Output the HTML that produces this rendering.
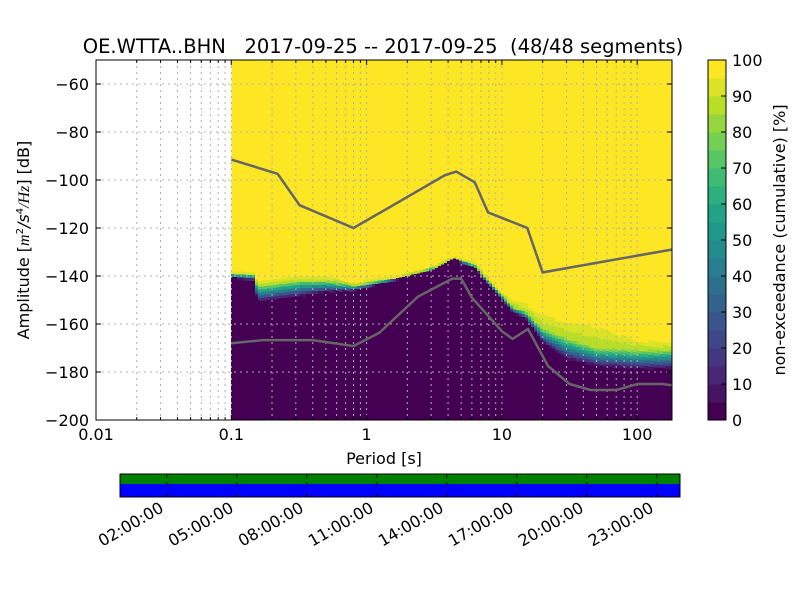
<!DOCTYPE html>
<html><head><meta charset="utf-8">
<style>
body{margin:0;background:#fff;}
svg text{font-family:"DejaVu Sans","Liberation Sans",sans-serif;fill:#000;}
</style></head>
<body>
<svg id="fig" width="800" height="600" xmlns="http://www.w3.org/2000/svg">
<rect width="800" height="600" fill="#fff"/>
<text x="383" y="53" font-size="19.5" text-anchor="middle" xml:space="preserve" style="white-space:pre">OE.WTTA..BHN   2017-09-25 -- 2017-09-25  (48/48 segments)</text>
<g id="heat" shape-rendering="crispEdges"></g>
<g id="grid"></g>
<g id="curves"></g>
<rect x="96" y="60" width="576" height="360" fill="none" stroke="#000" stroke-width="1"/>
<g id="axes"></g>
<text x="384" y="464" font-size="16" text-anchor="middle">Period [s]</text>
<text transform="translate(29,240) rotate(-90)" font-size="16" text-anchor="middle">Amplitude [<tspan font-style="italic" font-family="Liberation Serif">m</tspan><tspan font-size="10" dy="-6">2</tspan><tspan dy="6" font-style="italic">/s</tspan><tspan font-size="10" dy="-6">4</tspan><tspan dy="6" font-style="italic" font-family="Liberation Serif">/Hz</tspan>] [dB]</text>
<g id="cbar"></g>
<text transform="translate(785,240) rotate(-90)" font-size="16" text-anchor="middle">non-exceedance (cumulative) [%]</text>
<g id="timebar"></g>
</svg>
<script>
const colPeriods=[0.1,0.15,0.155,0.3,0.5,0.8,1.6,3.0,4.4,6.3,8,10,12,15,20,30,50,100,180];
const colUpper=[-138,-138.5,-141,-139,-139,-142,-140,-136.5,-131.5,-134,-140,-146,-149,-150,-154,-156,-157,-165,-167];
const colMid=[-139,-139.5,-144,-142,-142,-144,-141,-137,-132.5,-135.5,-142,-148,-153,-155,-162,-166,-170,-171,-171];
const colLower=[-141,-142,-151,-149,-147,-146.5,-142,-137.5,-133,-137,-144,-150,-155,-158,-168,-175,-178,-179,-179];
const hnmP=[0.1,0.22,0.32,0.8,3.8,4.6,6.3,7.9,15.4,20,180];
const hnmV=[-91.5,-97.4,-110.5,-120,-98,-96.5,-101,-113.5,-120,-138.5,-129];
const lnmP=[0.1,0.17,0.4,0.8,1.24,2.4,4.3,5,6,10,12,15.6,21.9,31.6,45,70,101,154,180];
const lnmV=[-168,-166.7,-166.7,-169.2,-163.7,-148.6,-141.1,-141.1,-149,-163,-166.2,-162.1,-177.5,-185,-187.5,-187.5,-185,-185,-185.5];
const yTicks=[-60,-80,-100,-120,-140,-160,-180,-200];
const xTicks=[0.01,0.1,1,10,100];
const xTickLabels=["0.01","0.1","1","10","100"];
const cbTicks=[0,10,20,30,40,50,60,70,80,90,100];
const timeLabels=["02:00:00","05:00:00","08:00:00","11:00:00","14:00:00","17:00:00","20:00:00","23:00:00"];
const timeHours=[2,5,8,11,14,17,20,23];

const NS="http://www.w3.org/2000/svg";
const X0=96,X1=672,Y0=60,Y1=420,LMIN=-2,LMAX=Math.log10(180.8);
const xs=p=>X0+(Math.log10(p)-LMIN)/(LMAX-LMIN)*(X1-X0);
const ys=v=>Y0+(-50-v)/150*(Y1-Y0);
function el(tag,attrs,parent){const e=document.createElementNS(NS,tag);for(const k in attrs)e.setAttribute(k,attrs[k]);parent.appendChild(e);return e;}
const vir=["#440154","#482475","#414487","#355f8d","#2a788e","#21918c","#22a884","#44bf70","#7ad151","#bddf26","#fde725"];
function hex(h){return [1,3,5].map(i=>parseInt(h.substr(i,2),16));}
function viridis(t){t=Math.max(0,Math.min(1,t));const f=t*10,i=Math.min(9,Math.floor(f)),r=f-i;const a=hex(vir[i]),b=hex(vir[i+1]);return `rgb(${a.map((c,k)=>Math.round(c+(b[k]-c)*r)).join(",")})`;}
function qcol(v){let lv=Math.min(19,Math.floor(v/5));return viridis(lv/19);}
function interp(P,V,p){const l=Math.log10(p);for(let i=0;i<P.length-1;i++){const a=Math.log10(P[i]),b=Math.log10(P[i+1]);if(l<=b||i==P.length-2){const r=(l-a)/(b-a);return V[i]+(V[i+1]-V[i])*Math.max(0,Math.min(1,r));}}return V[V.length-1];}

// heatmap
const heat=document.getElementById('heat');
const bg=el('rect',{x:xs(0.1),y:Y0,width:X1-xs(0.1),height:Y1-Y0,fill:qcol(100)},heat);


const xStart=Math.round(xs(colPeriods[0]));
for(let x=xStart;x<X1;x+=3){
  const p=Math.pow(10,LMIN+(x+1.5-X0)/(X1-X0)*(LMAX-LMIN));
  const u=interp(colPeriods,colUpper,p),m=interp(colPeriods,colMid,p),lo=interp(colPeriods,colLower,p);
  const w=Math.min(3,X1-x);
  const r=el('rect',{x:x,y:ys(lo),width:w,height:Y1-ys(lo),fill:qcol(0)},heat);
  
  
  for(let db=u;db>lo;db-=1.2){
    let v;const c=db-0.6;
    if(c>=m) v=100-15*(u-c)/Math.max(0.01,u-m); else v=85*(c-lo)/Math.max(0.01,m-lo);
    const rc=el('rect',{x:x,y:ys(db),width:w,height:3,fill:qcol(Math.max(0,Math.min(99.9,v)))},heat);
    
    
  }
}
// grid
const grid=document.getElementById('grid');
for(let d=-2;d<=2;d++)for(let k=1;k<10;k++){const p=k*Math.pow(10,d);const x=xs(p);if(x>X1)continue;
  const g=el('line',{x1:x,x2:x,y1:Y0,y2:Y1,stroke:"#b0b0b0","stroke-width":1,"stroke-dasharray":"2,4"},grid);
  
  }
yTicks.forEach(v=>{const y=ys(v);const g=el('line',{x1:X0,x2:X1,y1:y,y2:y,stroke:"#b0b0b0","stroke-width":1,"stroke-dasharray":"2,4"},grid);
  
  });
// curves
const curves=document.getElementById('curves');
function curve(P,V,name){const pts=P.map((p,i)=>xs(p).toFixed(1)+","+ys(V[i]).toFixed(1)).join(" ");
  const c=el('polyline',{points:pts,fill:"none",stroke:"#666","stroke-width":2.5},curves);
  
  }
curve(hnmP,hnmV,'high-noise-model');
curve(lnmP,lnmV,'low-noise-model');
// axes ticks
const axes=document.getElementById('axes');
yTicks.forEach(v=>{const y=ys(v);
  el('line',{x1:X0,x2:X0+5,y1:y,y2:y,stroke:"#000"},axes);
  el('line',{x1:X1,x2:X1-5,y1:y,y2:y,stroke:"#000"},axes);
  const t=el('text',{x:X0-7,y:y+6,"font-size":16,"text-anchor":"end"},axes);t.textContent="\u2212"+Math.abs(v);
  
  });
for(let d=-2;d<=2;d++)for(let k=1;k<10;k++){const x=xs(k*Math.pow(10,d));if(x>X1)continue;const L=k==1?5:3;
  el('line',{x1:x,x2:x,y1:Y1,y2:Y1-L,stroke:"#000"},axes);el('line',{x1:x,x2:x,y1:Y0,y2:Y0+L,stroke:"#000"},axes);}
xTicks.forEach((p,i)=>{const t=el('text',{x:xs(p),y:Y1+20,"font-size":16,"text-anchor":"middle"},axes);t.textContent=xTickLabels[i];
  
  });
// colorbar
const cb=document.getElementById('cbar');const CX=708,CW=18;
for(let i=0;i<20;i++){const y0=Y1-(i+1)*18;const r=el('rect',{x:CX,y:y0,width:CW,height:18.5,fill:viridis(i/19)},cb);
  
  }
el('rect',{x:CX,y:Y0,width:CW,height:Y1-Y0,fill:"none",stroke:"#000"},cb);
cbTicks.forEach(v=>{const y=Y1-v/100*(Y1-Y0);el('line',{x1:CX+CW-5,x2:CX+CW,y1:y,y2:y,stroke:"#000"},cb);
  const t=el('text',{x:CX+CW+6,y:y+6,"font-size":16},cb);t.textContent=v;
  
  });
// time bar
const tb=document.getElementById('timebar');const TX0=120,TX1=680,TY0=474,TY1=497;
const gbar=el('rect',{x:TX0,y:TY0,width:TX1-TX0,height:10,fill:"#008000"},tb);


const bbar=el('rect',{x:TX0,y:TY0+10,width:TX1-TX0,height:TY1-TY0-10,fill:"#0000ff"},tb);


el('rect',{x:TX0,y:TY0,width:TX1-TX0,height:TY1-TY0,fill:"none",stroke:"#000"},tb);
timeHours.forEach((h,i)=>{const x=TX0+h/24*(TX1-TX0);
  el('line',{x1:x,x2:x,y1:TY0,y2:TY0+4,stroke:"#000"},tb);el('line',{x1:x,x2:x,y1:TY1,y2:TY1-4,stroke:"#000"},tb);
  el('line',{x1:x,x2:x,y1:TY0+8,y2:TY0+12,stroke:"#000"},tb);
  const t=el('text',{transform:`translate(${x-2},${TY1+14}) rotate(-30)`,"font-size":16,"text-anchor":"end"},tb);t.textContent=timeLabels[i];
  
  });
</script>
</body></html>
